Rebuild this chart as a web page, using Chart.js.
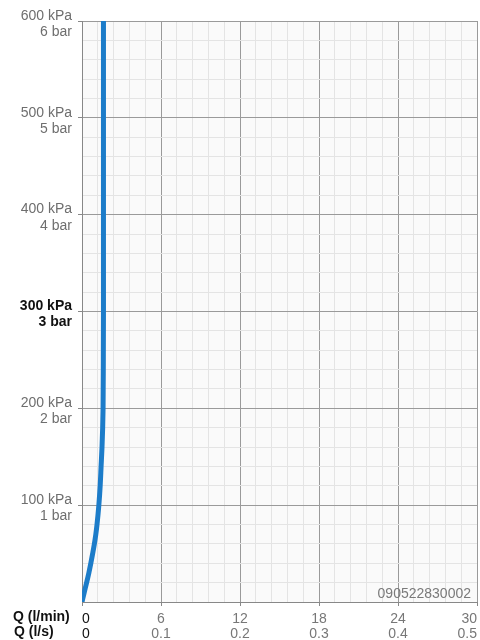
<!DOCTYPE html>
<html>
<head>
<meta charset="utf-8">
<script src="https://cdn.jsdelivr.net/npm/chart.js@4/dist/chart.umd.min.js"></script>
<style>
  html, body { margin: 0; padding: 0; background: #fff; }
  #wrap { position: relative; width: 480px; height: 640px; }
</style>
</head>
<body>
<div id="wrap"><canvas id="pressure-chart" width="480" height="640"></canvas></div>
<script>
// Flow curve: pressure (kPa) against flow (l/min)
const pressureKPa = [0, 10, 20, 30, 40, 50, 60, 70, 80, 100, 120, 140, 160, 180, 200, 250, 300, 600];
const flowLpm = [0, 0.17, 0.35, 0.52, 0.67, 0.81, 0.94, 1.05, 1.14, 1.28, 1.38, 1.45, 1.52, 1.57, 1.6, 1.62, 1.63, 1.63];

// Axis labels
const yMajorKPa = [100, 200, 300, 400, 500, 600];
const yKPaLabels = ['100 kPa', '200 kPa', '300 kPa', '400 kPa', '500 kPa', '600 kPa'];
const yBarLabels = ['1 bar', '2 bar', '3 bar', '4 bar', '5 bar', '6 bar'];
const xMajorLpm = [0, 6, 12, 18, 24, 30];
const xLpmLabels = ['0', '6', '12', '18', '24', '30'];
const xLpsLabels = ['0', '0.1', '0.2', '0.3', '0.4', '0.5'];
const highlightKPa = 300;
const drawingCode = '090522830002';

const FONT = '"Liberation Sans", Arial, Helvetica, sans-serif';
const MAJOR_GRID = '#9a9a9a';
const MINOR_GRID = '#e4e4e4';

function majorIndex(list, v) {
    return list.findIndex(m => Math.abs(m - v) < 1e-6);
}

// Background, left axis titles and code number
const decorPlugin = {
    id: 'decor',
    beforeDraw(chart) {
        const { ctx, chartArea: a } = chart;
        ctx.save();
        ctx.fillStyle = '#fafafa';
        ctx.fillRect(a.left, a.top, a.right - a.left, a.bottom - a.top);
        ctx.restore();
    },
    afterDraw(chart) {
        const { ctx, chartArea: a } = chart;
        ctx.save();
        ctx.fillStyle = '#111';
        ctx.font = 'bold 14px ' + FONT;
        ctx.textAlign = 'left';
        ctx.textBaseline = 'middle';
        ctx.fillText('Q (l/min)', 13, 617);
        ctx.fillText('Q (l/s)', 14, 632);
        ctx.fillStyle = '#7a7a7a';
        ctx.font = '14px ' + FONT;
        ctx.textAlign = 'right';
        ctx.textBaseline = 'alphabetic';
        ctx.fillText(drawingCode, a.right - 6, a.bottom - 4);
        ctx.restore();
    }
};

const points = flowLpm.map((q, i) => ({ x: q, y: pressureKPa[i] }));

new Chart(document.getElementById('pressure-chart').getContext('2d'), {
    type: 'line',
    data: {
        datasets: [{
            data: points,
            borderColor: '#1c7cc9',
            borderWidth: 5,
            pointRadius: 0,
            cubicInterpolationMode: 'monotone',
            fill: false
        }]
    },
    options: {
        indexAxis: 'y',
        responsive: false,
        animation: false,
        layout: { padding: { top: 21, right: 3, left: 0, bottom: 0 } },
        plugins: {
            legend: { display: false },
            tooltip: { enabled: false }
        },
        scales: {
            x: {
                type: 'linear',
                min: 0,
                max: 30,
                afterFit: scale => {
                    scale.height = 38;
                    scale.paddingLeft = 0;
                    scale.paddingRight = 0;
                },
                border: { color: '#888', width: 1 },
                grid: {
                    color: c => majorIndex(xMajorLpm, c.tick.value) >= 0 ? MAJOR_GRID : MINOR_GRID,
                    tickColor: c => majorIndex(xMajorLpm, c.tick.value) >= 0 ? '#888' : 'rgba(0,0,0,0)',
                    tickLength: 4
                },
                ticks: {
                    stepSize: 1.2,
                    autoSkip: false,
                    maxRotation: 0,
                    align: 'inner',
                    padding: 6,
                    font: { family: FONT, size: 14, lineHeight: 1.07 },
                    color: c => Math.abs(c.tick.value) < 1e-6 ? '#111' : '#777',
                    callback: value => {
                        const i = majorIndex(xMajorLpm, value);
                        return i >= 0 ? [xLpmLabels[i], xLpsLabels[i]] : '';
                    }
                }
            },
            y: {
                type: 'linear',
                min: 0,
                max: 600,
                afterFit: scale => {
                    scale.width = 82;
                    scale.paddingTop = 0;
                    scale.paddingBottom = 0;
                },
                border: { color: '#888', width: 1 },
                grid: {
                    color: c => (majorIndex(yMajorKPa, c.tick.value) >= 0 || c.tick.value === 0) ? MAJOR_GRID : MINOR_GRID,
                    tickColor: c => majorIndex(yMajorKPa, c.tick.value) >= 0 ? '#888' : 'rgba(0,0,0,0)',
                    tickLength: 4
                },
                ticks: {
                    stepSize: 20,
                    autoSkip: false,
                    padding: 6,
                    labelOffset: 3,
                    font: c => ({
                        family: FONT,
                        size: 14,
                        lineHeight: 1.15,
                        weight: c.tick && c.tick.value === highlightKPa ? 'bold' : 'normal'
                    }),
                    color: c => c.tick && c.tick.value === highlightKPa ? '#111' : '#6e6e6e',
                    callback: value => {
                        const i = majorIndex(yMajorKPa, value);
                        return i >= 0 ? [yKPaLabels[i], yBarLabels[i]] : '';
                    }
                }
            }
        }
    },
    plugins: [decorPlugin]
});
</script>
</body>
</html>
